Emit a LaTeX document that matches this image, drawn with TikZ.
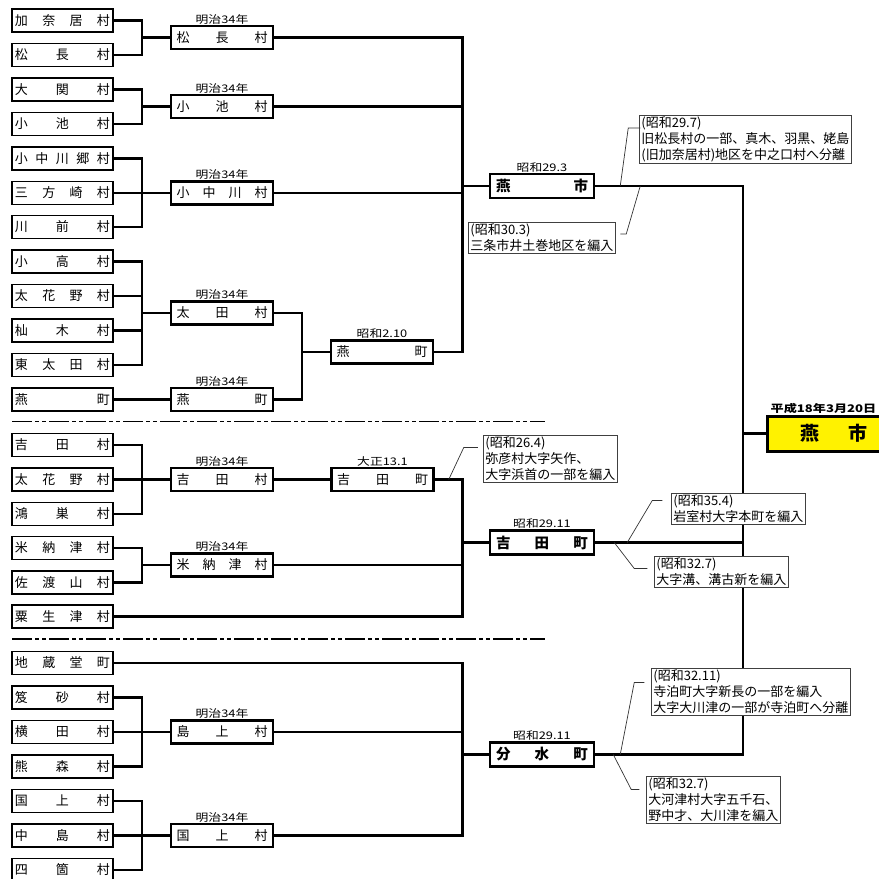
\documentclass[tikz,border=0pt]{standalone}
\usepackage{fontspec}
\setmainfont{Noto Sans CJK JP}
\usepackage{graphicx}
\usetikzlibrary{positioning,calc}
\newcommand{\kintou}[2][95pt]{\makebox[#1][s]{#2}}
\newcommand{\hiroi}[1]{\scalebox{1.22}[1]{#1}}

\begin{document}
\begin{tikzpicture}[x=1pt, y=-1pt,
  mura/.style={draw, line width=1.3pt, minimum width=101pt, minimum height=23pt, inner sep=0pt, font=\fontsize{13}{13}\selectfont},
  shinson/.style={mura, line width=2.5pt, minimum width=102pt},
  gappei/.style={shinson, minimum width=104pt, minimum height=24pt, font=\bfseries\fontsize{14.5}{14.5}\selectfont},
  nendai/.style={inner sep=0pt, font=\fontsize{10.5}{10.5}\selectfont},
  bikou/.style={draw=black!75, fill=white, line width=0.8pt, anchor=north west, align=left, inner xsep=2pt, inner ysep=1.5pt, font=\fontsize{13}{16}\selectfont},
  sen/.style={line width=2.5pt},
  hiki/.style={line width=0.7pt, black!80},
  kugiri/.style={line width=1.5pt, dash pattern=on 20pt off 3pt on 4pt off 3pt on 4pt off 3pt}]

\useasboundingbox (0,0) rectangle (879,879);
\clip (0,0) rectangle (879,879);

\foreach \n/\y/\t in {kanai/20.5/加 奈 居 村, matsunaga/55/松 長 村, ozeki/89.5/大 関 村,
    koike/124/小 池 村, konakagawago/158.5/小 中 川 郷 村, sampozaki/193/三 方 崎 村,
    kawamae/227/川 前 村, odaka/261.5/小 高 村, tahanano/296/太 花 野 村,
    somaki/330.5/杣 木 村, higashiota/365/東 太 田 村, tsubame/399.5/燕 町,
    yoshida/445/吉 田 村, tahanano2/479.5/太 花 野 村, konosu/514/鴻 巣 村,
    yonouzu/548/米 納 津 村, sadoyama/582.5/佐 渡 山 村, aozu/616.5/粟 生 津 村,
    jizodo/663/地 蔵 堂 町, kasasuna/697.5/笈 砂 村, yokota/732/横 田 村,
    kumamori/766.5/熊 森 村, kugami/801/国 上 村, nakajima/835.5/中 島 村, shikka/870/四 箇 村}
  \node[mura] (\n) at (62.5,\y) {\kintou{\t}};

\node[shinson] (m-matsunaga) at (222,37.7) {\kintou[91pt]{松 長 村}};
\node[shinson] (m-koike) at (222,106.7) {\kintou[91pt]{小 池 村}};
\node[shinson] (m-konakagawa) at (222,193) {\kintou[91pt]{小 中 川 村}};
\node[shinson] (m-ota) at (222,313) {\kintou[91pt]{太 田 村}};
\node[shinson] (m-tsubame) at (222,399.5) {\kintou[91pt]{燕 町}};
\node[shinson] (m-yoshida) at (222,479.5) {\kintou[91pt]{吉 田 村}};
\node[shinson] (m-yonouzu) at (222,565) {\kintou[91pt]{米 納 津 村}};
\node[shinson] (m-shimakami) at (222,732) {\kintou[91pt]{島 上 村}};
\node[shinson] (m-kugami) at (222,835.5) {\kintou[91pt]{国 上 村}};
\foreach \s in {matsunaga,koike,konakagawa,ota,tsubame,yoshida,yonouzu,shimakami,kugami}
  \node[nendai, above=0.5pt of m-\s] (y-\s) {\hiroi{明治34年}};

\node[shinson] (t-tsubame) at (382,352) {\kintou[91pt]{燕 町}};
\node[nendai, above=0.5pt of t-tsubame] (y-showa0210) {\hiroi{昭和2.10}};
\node[shinson] (t-yoshida) at (382.5,479.5) {\kintou[91pt]{吉 田 町}};
\node[nendai, above=0.5pt of t-yoshida] (y-taisho) {\hiroi{大正13.1}};

\node[gappei] (g-tsubame) at (542,186) {\kintou[92pt]{燕 市}};
\node[nendai, above=0.5pt of g-tsubame] (y-showa2903) {\hiroi{昭和29.3}};
\node[gappei] (g-yoshida) at (542,542.5) {\kintou[92pt]{吉 田 町}};
\node[nendai, above=0.5pt of g-yoshida] (y-showa2911a) {\hiroi{昭和29.11}};
\node[gappei] (g-bunsui) at (542,754.5) {\kintou[92pt]{分 水 町}};
\node[nendai, above=0.5pt of g-bunsui] (y-showa2911b) {\hiroi{昭和29.11}};

\node[draw, fill=yellow, line width=3pt, minimum width=134pt, minimum height=35pt, inner sep=0pt,
  font=\bfseries\fontsize{19}{19}\selectfont] (tsubameshi) at (834,433.5) {\kintou[67pt]{燕 市}\hspace{15pt}};
\node[nendai, font=\bfseries\fontsize{10.5}{10.5}\selectfont, anchor=south west] (y-heisei)
  at ([xshift=5pt, yshift=1pt]tsubameshi.north west) {\scalebox{1.25}[1]{平成18年3月20日}};

\coordinate (jA) at (142,0);
\coordinate (jB) at (302,0);
\coordinate (jC) at (462.5,0);
\coordinate (jD) at (743,0);

\draw[sen] (kanai.east) -| (jA |- matsunaga.east) -- (matsunaga.east);
\draw[sen] (jA |- m-matsunaga.west) -- (m-matsunaga.west);
\draw[sen] (ozeki.east) -| (jA |- koike.east) -- (koike.east);
\draw[sen] (jA |- m-koike.west) -- (m-koike.west);
\draw[sen] (konakagawago.east) -| (jA |- kawamae.east) -- (kawamae.east);
\draw[sen] (sampozaki.east) -- (m-konakagawa.west);
\draw[sen] (odaka.east) -| (jA |- higashiota.east) -- (higashiota.east);
\draw[sen] (tahanano.east) -- (jA |- tahanano.east);
\draw[sen] (somaki.east) -- (jA |- somaki.east);
\draw[sen] (jA |- m-ota.west) -- (m-ota.west);
\draw[sen] (tsubame.east) -- (m-tsubame.west);
\draw[sen] (m-ota.east) -| (jB |- m-tsubame.east) -- (m-tsubame.east);
\draw[sen] (jB |- t-tsubame.west) -- (t-tsubame.west);
\draw[sen] (m-matsunaga.east) -| (jC |- t-tsubame.east) -- (t-tsubame.east);
\draw[sen] (m-koike.east) -- (jC |- m-koike.east);
\draw[sen] (m-konakagawa.east) -- (jC |- m-konakagawa.east);
\draw[sen] (jC |- g-tsubame.west) -- (g-tsubame.west);

\draw[sen] (yoshida.east) -| (jA |- konosu.east) -- (konosu.east);
\draw[sen] (tahanano2.east) -- (m-yoshida.west);
\draw[sen] (yonouzu.east) -| (jA |- sadoyama.east) -- (sadoyama.east);
\draw[sen] (jA |- m-yonouzu.west) -- (m-yonouzu.west);
\draw[sen] (m-yoshida.east) -- (t-yoshida.west);
\draw[sen] (t-yoshida.east) -| (jC |- aozu.east) -- (aozu.east);
\draw[sen] (m-yonouzu.east) -- (jC |- m-yonouzu.east);
\draw[sen] (jC |- g-yoshida.west) -- (g-yoshida.west);

\draw[sen] (kasasuna.east) -| (jA |- kumamori.east) -- (kumamori.east);
\draw[sen] (yokota.east) -- (m-shimakami.west);
\draw[sen] (kugami.east) -| (jA |- shikka.east) -- (shikka.east);
\draw[sen] (nakajima.east) -- (m-kugami.west);
\draw[sen] (jizodo.east) -| (jC |- m-kugami.east) -- (m-kugami.east);
\draw[sen] (m-shimakami.east) -- (jC |- m-shimakami.east);
\draw[sen] (jC |- g-bunsui.west) -- (g-bunsui.west);

\draw[sen] (g-tsubame.east) -| (jD |- g-bunsui.east) -- (g-bunsui.east);
\draw[sen] (g-yoshida.east) -- (jD |- g-yoshida.east);
\draw[sen] (jD |- tsubameshi.west) -- (tsubameshi.west);

\draw[kugiri] (12,421.5) -- (545,421.5);
\draw[kugiri] (12,639) -- (545,639);

\node[bikou] (b-2907) at (639,115) {(昭和29.7)\\旧松長村の一部、真木、羽黒、姥島\\(旧加奈居村)地区を中之口村へ分離};
\node[bikou] (b-3003) at (468,222) {(昭和30.3)\\三条市井土巻地区を編入};
\node[bikou] (b-2604) at (483,435) {(昭和26.4)\\弥彦村大字矢作、\\大字浜首の一部を編入};
\node[bikou] (b-3504) at (671,493) {(昭和35.4)\\岩室村大字本町を編入};
\node[bikou] (b-3207a) at (654,556) {(昭和32.7)\\大字溝、溝古新を編入};
\node[bikou] (b-3211) at (651,668) {(昭和32.11)\\寺泊町大字新長の一部を編入\\大字大川津の一部が寺泊町へ分離};
\node[bikou] (b-3207b) at (646,776) {(昭和32.7)\\大河津村大字五千石、\\野中才、大川津を編入};

\coordinate (h1) at ([xshift=25pt]g-tsubame.east);
\coordinate (h2) at ([xshift=45pt]g-tsubame.east);
\coordinate (h3) at ([xshift=14pt]t-yoshida.east);
\coordinate (h4) at ([xshift=32pt]g-yoshida.east);
\coordinate (h5) at ([xshift=19pt]g-yoshida.east);
\coordinate (h6) at ([xshift=25pt]g-bunsui.east);
\coordinate (h7) at ([xshift=18pt]g-bunsui.east);

\draw[hiki] (h1) -- ++(8,-58) -- ++(12,0);
\draw[hiki] (h2) -- ++(-14,48) -- ++(-6,0);
\draw[hiki] (h3) -- ++(15,-32) -- ++(14,0);
\draw[hiki] (h4) -- ++(25,-42) -- ++(10,0);
\draw[hiki] (h5) -- ++(20,26) -- ++(13,0);
\draw[hiki] (h6) -- ++(14,-72) -- ++(10,0);
\draw[hiki] (h7) -- ++(18,35) -- ++(8,0);

\end{tikzpicture}
\end{document}
